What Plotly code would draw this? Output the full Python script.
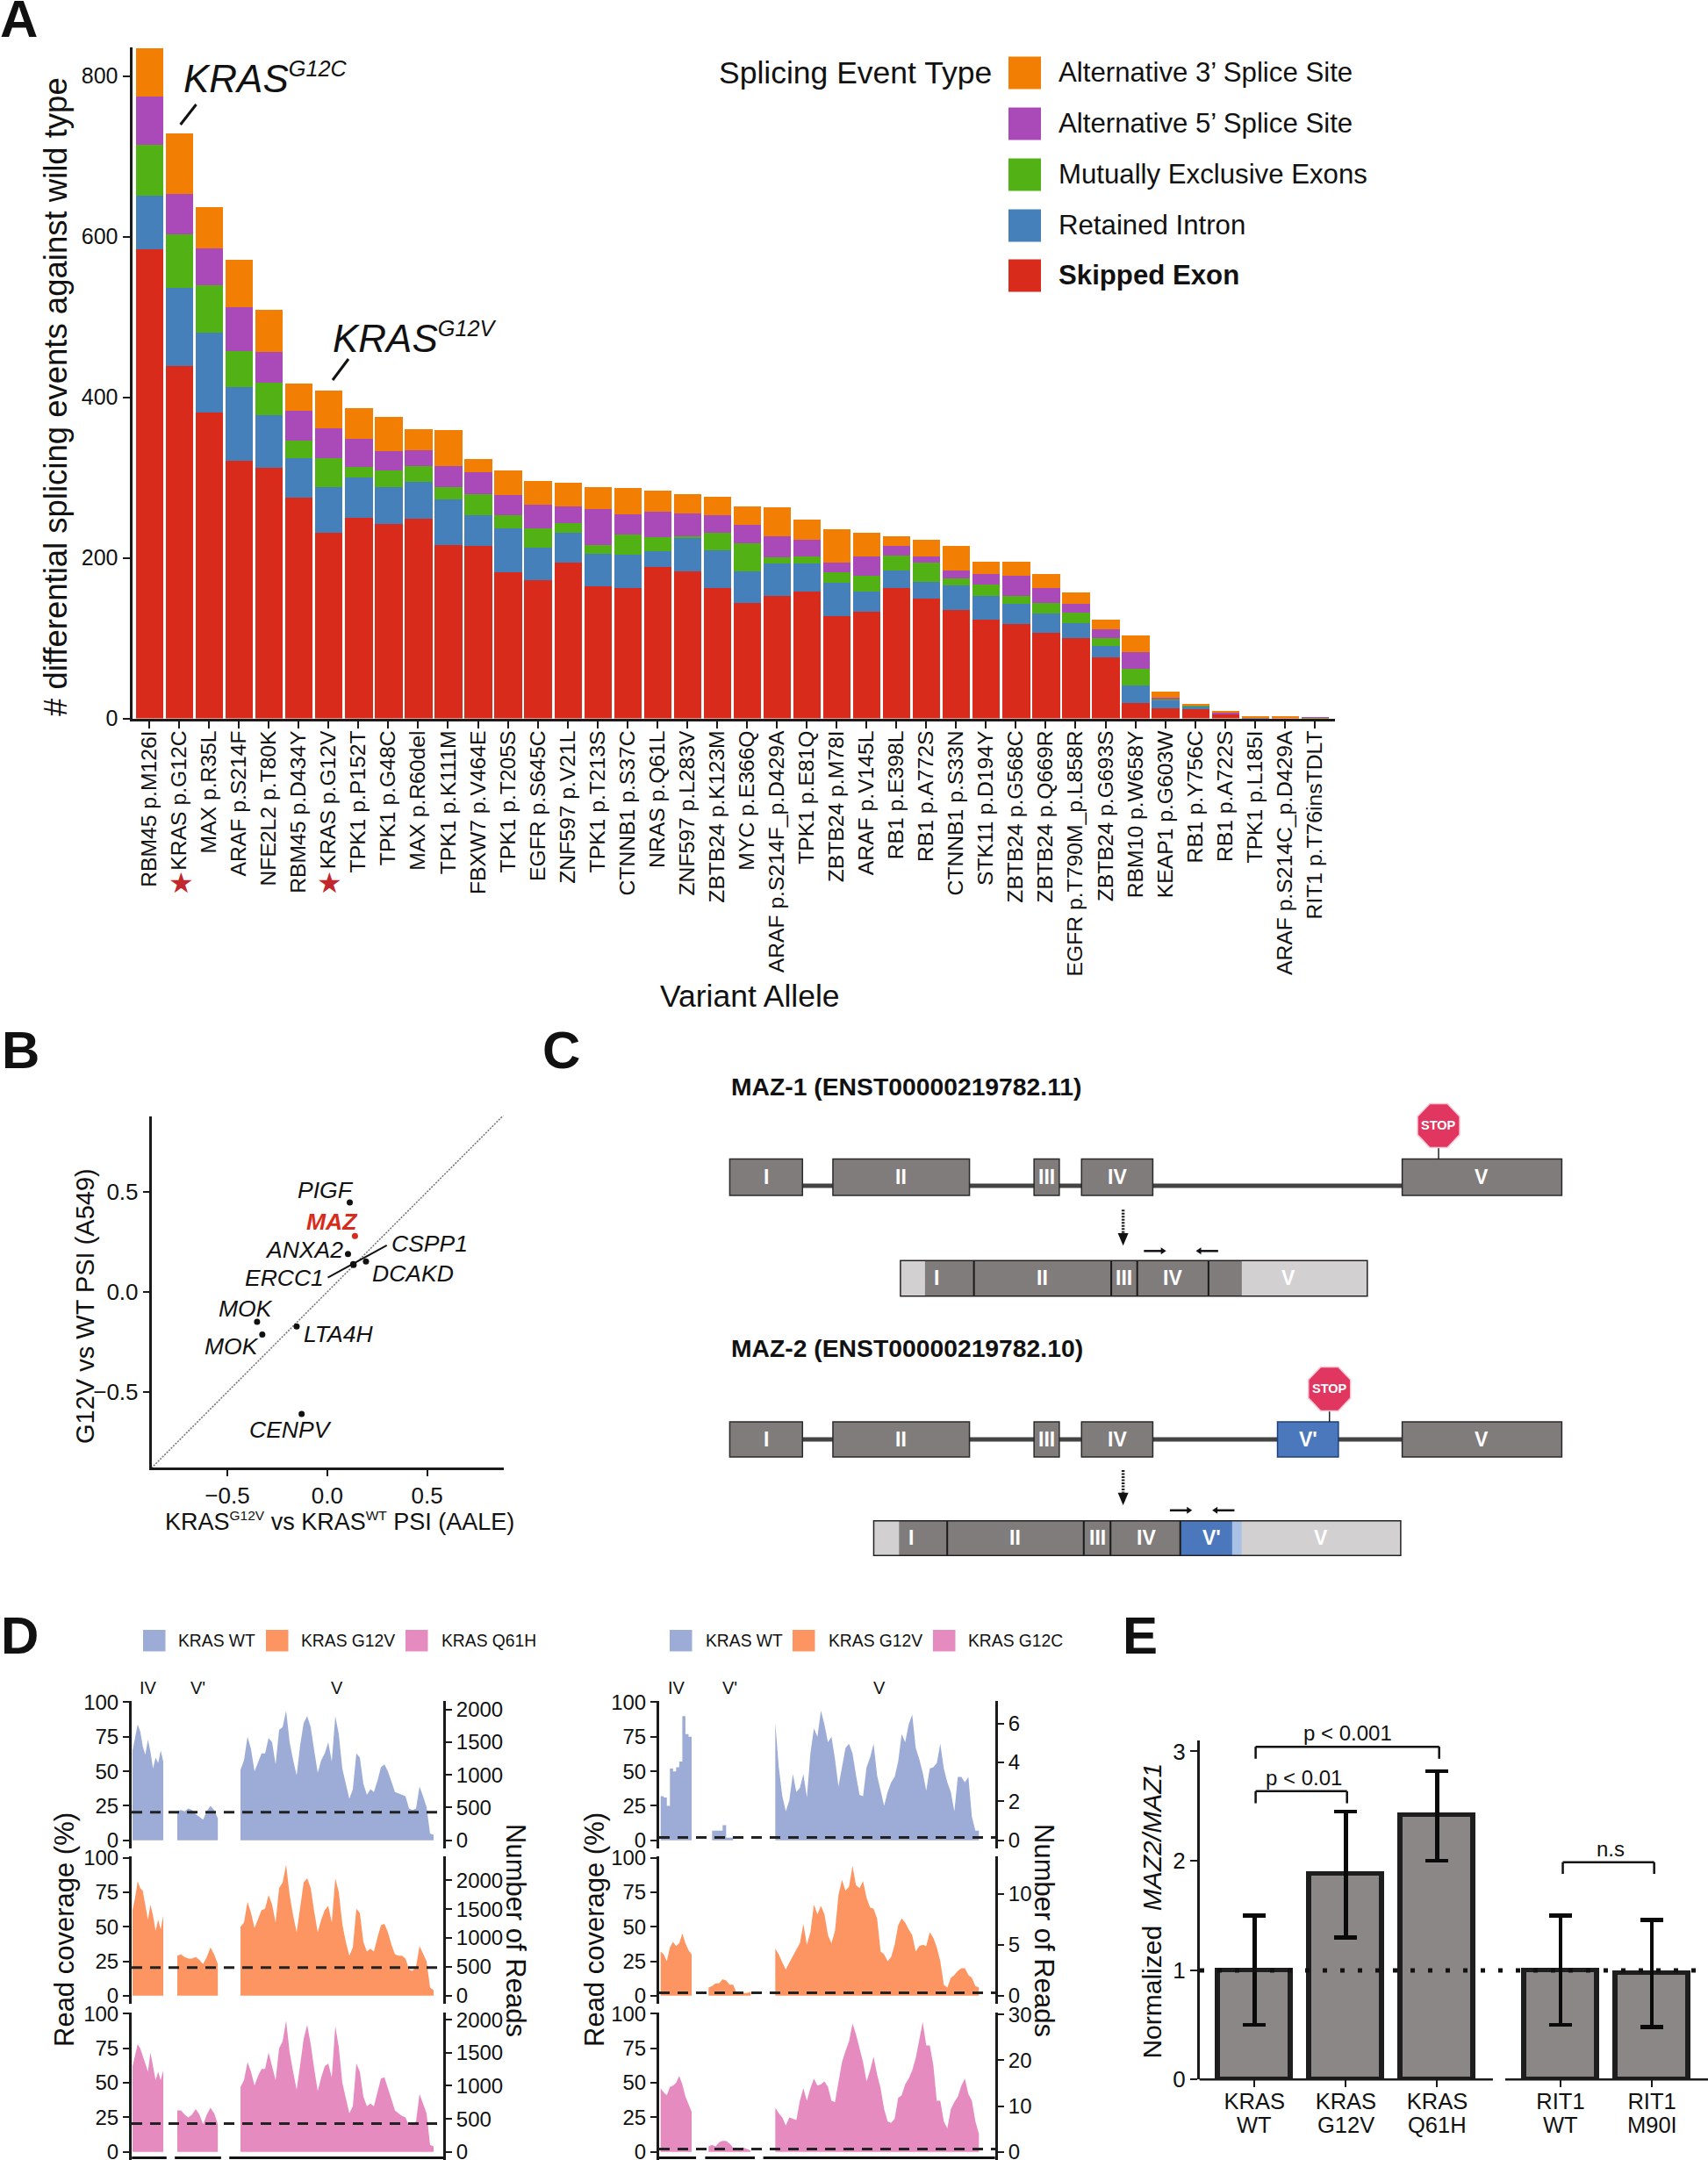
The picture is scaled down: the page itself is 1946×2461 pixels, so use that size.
import plotly.graph_objects as go

W, H = 1946, 2461
FONT = "Liberation Sans"
INK = "#111111"

# ---------- Panel A ----------
variants = ["RBM45 p.M126I","KRAS p.G12C","MAX p.R35L","ARAF p.S214F","NFE2L2 p.T80K","RBM45 p.D434Y","KRAS p.G12V",
 "TPK1 p.P152T","TPK1 p.G48C","MAX p.R60del","TPK1 p.K111M","FBXW7 p.V464E","TPK1 p.T205S","EGFR p.S645C","ZNF597 p.V21L",
 "TPK1 p.T213S","CTNNB1 p.S37C","NRAS p.Q61L","ZNF597 p.L283V","ZBTB24 p.K123M","MYC p.E366Q","ARAF p.S214F_p.D429A",
 "TPK1 p.E81Q","ZBTB24 p.M78I","ARAF p.V145L","RB1 p.E398L","RB1 p.A772S","CTNNB1 p.S33N","STK11 p.D194Y","ZBTB24 p.G568C",
 "ZBTB24 p.Q669R","EGFR p.T790M_p.L858R","ZBTB24 p.G693S","RBM10 p.W658Y","KEAP1 p.G603W","RB1 p.Y756C","RB1 p.A722S",
 "TPK1 p.L185I","ARAF p.S214C_p.D429A","RIT1 p.T76insTDLT"]
skipped_exon = [585,439,381,321,313,275,232,250,243,249,216,215,183,173,195,165,163,189,184,163,144,153,159,128,133,163,150,135,124,118,107,100,76,20,13,12,6,1,2,0.5]
retained_intron = [66,98,100,92,65,50,57,50,46,46,57,38,54,40,37,41,41,20,42,47,40,40,34,41,25,22,21,31,29,25,24,19,15,21,10,4,0,0.5,0,0]
mutually_exclusive = [64,66,59,45,41,21,36,14,20,20,15,27,16,24,12,10,26,17,1,22,35,8,9,14,20,18,23,9,14,10,13,13,9,21,2,1,0,0,0,1]
alt_5prime = [60,50,46,55,38,38,37,35,24,19,27,27,26,30,21,45,25,32,29,21,22,26,21,12,24,12,8,10,13,25,19,11,12,21,1,0,2,0.5,0,0.5]
alt_3prime = [60,76,51,59,52,34,47,38,43,27,45,16,30,29,29,28,32,26,24,24,24,36,25,41,30,12,21,30,16,18,17,14,11,21,8,1,1,1,1,0]
event_names = ["Alternative 3\u2019 Splice Site","Alternative 5\u2019 Splice Site","Mutually Exclusive Exons","Retained Intron","Skipped Exon"]
event_colors = ["#f27e03","#a94ab8","#52b215","#4580ba","#d92b1b"]

# ---------- Panel B ----------
psi_genes = ["PIGF","MAZ","ANXA2","ERCC1","CSPP1","DCAKD","MOK","MOK","LTA4H","CENPV"]
psi_aale = [0.113,0.139,0.104,0.130,0.132,0.194,-0.351,-0.325,-0.153,-0.128]
psi_a549 = [0.447,0.279,0.190,0.139,0.135,0.152,-0.149,-0.213,-0.172,-0.610]

# ---------- Panel D (read coverage %, IV / V' / V exons) ----------
L_WT_IV = [65,74,84,79,68,62,73,64,52,60,56,65,57]
L_WT_Vp = [21,22,21,23,22,19,17,15,21,25,22,16]
L_WT_V = [51,58,75,66,50,57,63,63,74,71,55,80,82,94,71,58,47,69,85,90,82,65,49,58,63,71,57,90,77,52,40,30,37,63,60,41,33,37,35,43,53,55,50,42,35,34,33,32,23,22,23,39,32,24,5,4]
L_G12V_IV = [62,71,83,78,76,65,55,66,58,47,55,48,58]
L_G12V_Vp = [29,30,28,27,27,28,26,23,28,35,30,23]
L_G12V_V = [50,53,68,60,49,56,62,63,73,66,53,78,82,95,73,58,46,64,82,85,78,61,46,55,62,65,53,85,75,52,39,29,35,63,60,39,32,34,32,42,51,52,46,37,30,29,29,27,19,18,21,36,31,25,6,4]
L_Q61H_IV = [62,70,78,75,70,64,58,72,62,52,58,52,59]
L_Q61H_Vp = [30,30,27,25,27,31,27,20,27,32,28,20]
L_Q61H_V = [47,52,65,58,48,55,60,60,72,62,52,75,80,95,72,58,45,63,82,92,78,60,44,54,62,64,54,91,76,50,38,28,33,64,58,40,33,35,33,43,53,54,46,38,30,28,26,25,19,20,22,42,35,28,5,4]
R_WT_IV = [32,31,25,52,50,53,57,90,77,75,74]
R_WT_Vp = [0,7,7,7,11,2,2,0,0,0,0,0,0]
R_WT_V = [85,53,32,21,29,48,35,38,48,31,63,81,75,94,84,71,75,59,39,53,67,70,63,47,33,32,53,60,70,47,35,25,35,42,46,57,77,71,84,91,67,59,49,36,52,53,56,70,52,42,35,21,46,46,42,46,17,7,7]
R_G12V_IV = [32,30,25,35,39,36,38,45,38,33,30]
R_G12V_Vp = [6,7,9,9,12,11,8,8,2,1,2,2,3]
R_G12V_V = [34,30,24,19,24,29,34,38,52,37,46,66,59,65,59,44,38,47,73,84,76,79,94,80,78,83,71,64,63,56,32,30,25,28,37,51,56,53,48,44,32,36,37,36,46,42,35,25,8,6,13,15,18,20,20,15,13,7,6]
R_G12C_IV = [46,43,41,47,48,50,55,49,40,34,29]
R_G12C_Vp = [4,5,4,7,8,8,6,3,1,2,3,2,1]
R_G12C_V = [32,28,25,19,25,24,23,37,46,37,46,53,48,49,51,47,37,36,51,65,73,80,93,85,75,65,51,59,69,56,46,31,22,21,24,39,41,49,53,59,68,80,94,77,77,63,37,37,22,17,31,36,40,48,53,42,37,22,13]
left_ticks_pct = [0,25,50,75,100]
reads_ticks = [[0,500,1000,1500,2000],[0,500,1000,1500,2000],[0,500,1000,1500,2000],[0,2,4,6],[0,5,10],[0,10,20,30]]
thresholds_reads = [431,489,428,0.145,0.28,0.62]
cov_colors = ["#9dacd6","#fc9561","#e68bc0"]

# ---------- Panel E ----------
e_line1 = ["KRAS","KRAS","KRAS","RIT1","RIT1"]
e_line2 = ["WT","G12V","Q61H","WT","M90I"]
e_pos = [0,1,2,3.35,4.35]
e_vals = [1.0,1.88,2.42,1.0,0.97]
e_hi = [1.5,2.45,2.82,1.5,1.46]
e_lo = [0.5,1.3,2.0,0.5,0.48]

# ---------- helpers ----------
fx = lambda x: x / W
fy = lambda y: 1 - y / H
shapes, annots = [], []

def txt(x, y, s, size, color=INK, anchor="center", angle=0, family=FONT):
    annots.append(dict(x=fx(x), y=fy(y), xref="paper", yref="paper", text=s, showarrow=False,
                       font=dict(size=size, color=color, family=family), xanchor=anchor, yanchor="middle",
                       textangle=angle, align="center"))

def rect(x0, y0, x1, y1, fill, line=None, lw=0):
    shapes.append(dict(type="rect", xref="paper", yref="paper", x0=fx(x0), x1=fx(x1), y0=fy(y0), y1=fy(y1),
                       fillcolor=fill, line=dict(color=line or fill, width=lw)))

def seg(x0, y0, x1, y1, color=INK, lw=2, dash="solid"):
    shapes.append(dict(type="line", xref="paper", yref="paper", x0=fx(x0), x1=fx(x1), y0=fy(y0), y1=fy(y1),
                       line=dict(color=color, width=lw, dash=dash)))

def poly(pts, fill, line=None, lw=0):
    p = "M " + " L ".join(f"{fx(a):.6f},{fy(b):.6f}" for a, b in pts) + " Z"
    shapes.append(dict(type="path", xref="paper", yref="paper", path=p, fillcolor=fill, line=dict(color=line or fill, width=lw)))

SMALLSUP = lambda s: f"<sup><span style='font-size:82%'>{s}</span></sup>"

fig = go.Figure()
layout = {}
AX = dict(showgrid=False, zeroline=False, showline=True, linecolor="#1a1a1a", ticks="outside", tickcolor="#1a1a1a",
          automargin=False, ticklabeloverflow="allow")

# ---------- A ----------
series = [skipped_exon, retained_intron, mutually_exclusive, alt_5prime, alt_3prime]
for vals, name, col in zip(series, event_names[::-1], event_colors[::-1]):
    fig.add_trace(go.Bar(x=variants, y=vals, name=name, marker=dict(color=col, line=dict(width=0)),
                         width=0.92, xaxis="x", yaxis="y", showlegend=False))
layout["xaxis"] = dict(AX, domain=[fx(150.5), fx(1521)], range=[-0.573, 39.68], type="category", linewidth=3, ticklen=8, tickwidth=2,
                       tickangle=-90, tickfont=dict(size=24.7, family=FONT, color=INK), anchor="y", tickmode="array",
                       tickvals=variants, ticktext=variants, ticklabelstandoff=-7)
layout["yaxis"] = dict(AX, domain=[fy(818.6), fy(53.6)], range=[0, 836], linewidth=3, ticklen=8, tickwidth=2, tickvals=[0,200,400,600,800],
                       tickfont=dict(size=25, family=FONT, color=INK), anchor="x")
layout["barmode"] = "stack"
txt(64, 452, "# differential splicing events against wild type", 36.5, angle=-90)
txt(854, 1135, "Variant Allele", 35.5)
txt(975, 83, "Splicing Event Type", 35.5)
for name, col, yc in zip(event_names, event_colors, [83, 141, 199, 257, 314]):
    rect(1149, yc - 18.5, 1186, yc + 18.5, col)
    txt(1204, yc, f"<b>{name}</b>" if name == "Skipped Exon" else name, 31.2, anchor="left")
txt(207, 89, "<i>KRAS" + SMALLSUP("G12C") + "</i>", 44, anchor="left")
txt(377, 385, "<i>KRAS" + SMALLSUP("G12V") + "</i>", 44, anchor="left")
seg(223.5, 119, 205.6, 142, lw=3)
seg(397, 409, 379, 433, lw=3)
for xs in (206, 375):
    txt(xs, 1006, "\u2605", 32, color="#c1272d", family="DejaVu Sans")
txt(21, 21, "<b>A</b>", 60)
txt(23, 1197, "<b>B</b>", 60)
txt(639, 1197, "<b>C</b>", 60)
txt(22, 1863, "<b>D</b>", 60)
txt(1299, 1863, "<b>E</b>", 60)

# ---------- B ----------
fig.add_trace(go.Scatter(x=[-0.88, 0.884], y=[-0.88, 0.884], mode="lines", line=dict(color="#777777", width=1.6, dash="2px,1.5px"),
                         xaxis="x2", yaxis="y2", showlegend=False))
fig.add_trace(go.Scatter(x=psi_aale, y=psi_a549, mode="markers", text=psi_genes,
                         marker=dict(size=7, color=["#d92b1b" if g == "MAZ" else "#111111" for g in psi_genes]),
                         xaxis="x2", yaxis="y2", showlegend=False))
layout["xaxis2"] = dict(AX, domain=[fx(172.5), fx(574)], range=[-0.88, 0.884], linewidth=2.5, ticklen=7, tickwidth=2, tickvals=[-0.5,0,0.5],
                        tickformat=".1f", tickfont=dict(size=26, family=FONT, color=INK), anchor="y2")
layout["yaxis2"] = dict(AX, domain=[fy(1672), fy(1271.5)], range=[-0.877, 0.879], linewidth=2.5, ticklen=7, tickwidth=2, tickvals=[-0.5,0,0.5],
                        tickformat=".1f", tickfont=dict(size=26, family=FONT, color=INK), anchor="x2")
bx = lambda z: z / 2.53
by = lambda z: 1160 + z / 2.53
for s, zx, zy in [("PIGF",938,495),("ANXA2",876,668),("ERCC1",820,748),("CSPP1",1238,650),("DCAKD",1190,735),
                  ("MOK",708,838),("MOK",668,947),("LTA4H",975,912),("CENPV",838,1187)]:
    txt(bx(zx), by(zy), f"<i>{s}</i>", 26.5)
txt(bx(957), by(587), "<b><i>MAZ</i></b>", 26.5, color="#d92b1b")
seg(bx(945), by(748), bx(1115), by(655), lw=2)
txt(97, 1488, "G12V vs WT PSI (A549)", 29, angle=-90)
txt(387, 1733, "KRAS" + SMALLSUP("G12V") + " vs KRAS" + SMALLSUP("WT") + " PSI (AALE)", 27)

# ---------- C ----------
cx = lambda z: 620 + z / 1.1825
cy = lambda z: 1160 + z / 2.45
GREY, LIGHT, BLUE = "#7f7c7b", "#d2d0d1", "#4b78bd"
def c_label(zx, zy, s):
    txt(cx(zx), cy(zy), f"<b>{s}</b>", 23, color="white")
def stop(zx, zy, foot):
    X, Y = cx(zx), cy(zy)
    seg(X, Y, X, cy(foot), color="#222222", lw=1.5)
    r, k = 25, 10.4
    rx, kx = 24, 10
    poly([(X-kx,Y-r),(X+kx,Y-r),(X+rx,Y-k),(X+rx,Y+k),(X+kx,Y+r),(X-kx,Y+r),(X-rx,Y+k),(X-rx,Y-k)], "#e0365f", "#f7c6d3", 1.5)
    txt(X, Y, "<b>STOP</b>", 14.5, color="white")
def down_arrow(zx, z0, z1, z2):
    X = cx(zx)
    seg(X, cy(z0), X, cy(z1), color="#222222", lw=3.5, dash="2px,1.5px")
    poly([(X-6, cy(z1)), (X+6, cy(z1)), (X, cy(z2))], "#111111")
def primer(z0, z1, zy, right=True):
    y = cy(zy)
    a, b = cx(z0), cx(z1)
    if right:
        seg(a, y, b-4, y, lw=2.5); poly([(b-6,y-4),(b-6,y+4),(b,y)], "#111111")
    else:
        seg(a+4, y, b, y, lw=2.5); poly([(a+6,y-4),(a+6,y+4),(a,y)], "#111111")
txt(cx(250), cy(190), "<b>MAZ-1 (ENST00000219782.11)</b>", 28.3, anchor="left")
txt(cx(250), cy(922), "<b>MAZ-2 (ENST00000219782.10)</b>", 28.3, anchor="left")
exons = [("I",250,348),("II",389,573),("III",660,694),("IV",724,820)]
for top, bot, intron in [(393,495,468),(1127,1225,1176)]:
    rect(cx(348), cy(intron)-2.5, cx(1156), cy(intron)+2.5, "#444444")
    for s, a, b in exons + [("V",1156,1371)]:
        rect(cx(a), cy(top), cx(b), cy(bot), GREY, "#2a2a2a", 1.5)
        c_label((a+b)/2, (top+bot)/2, s)
rect(cx(988), cy(1127), cx(1070), cy(1225), BLUE, "#1d3f7a", 1.5)
c_label(1029, 1176, "V'")
stop(1205, 300, 393)
stop(1058, 1035, 1127)
down_arrow(780, 535, 600, 635)
down_arrow(780, 1262, 1325, 1360)
primer(808, 838, 650, True); primer(878, 908, 650, False)
primer(843, 873, 1374, True); primer(900, 930, 1374, False)
# transcript MAZ-1
rect(cx(480), cy(677), cx(513), cy(776), LIGHT)
rect(cx(513), cy(677), cx(940), cy(776), GREY)
rect(cx(940), cy(677), cx(1109), cy(776), LIGHT)
for z in (579, 764, 799, 895):
    seg(cx(z), cy(677), cx(z), cy(776), color="#1a1a1a", lw=2)
rect(cx(480), cy(677), cx(1109), cy(776), "rgba(0,0,0,0)", "#222222", 1.5)
for s, z in [("I",529),("II",671),("III",781),("IV",847),("V",1003)]:
    c_label(z, 725, s)
# transcript MAZ-2
rect(cx(444), cy(1403), cx(478), cy(1500), LIGHT)
rect(cx(478), cy(1403), cx(857), cy(1500), GREY)
rect(cx(857), cy(1403), cx(927), cy(1500), BLUE)
rect(cx(927), cy(1403), cx(940), cy(1500), "#a9c1e4")
rect(cx(940), cy(1403), cx(1154), cy(1500), LIGHT)
for z in (543, 727, 763, 857):
    seg(cx(z), cy(1403), cx(z), cy(1500), color="#1a1a1a", lw=2)
rect(cx(444), cy(1403), cx(1154), cy(1500), "rgba(0,0,0,0)", "#222222", 1.5)
for s, z in [("I",494),("II",635),("III",746),("IV",811),("V'",899),("V",1047)]:
    c_label(z, 1451, s)

# ---------- D ----------
dy = lambda z: 1830 + z / 2.485
rows = [(268,663,685),(708,1103,1125),(1150,1545,1567)]
k_reads = [0.1855,0.1635,0.187,55.2,28.8,12.97]
columns = [
    dict(dom=(150,505), span=88.75, iv=(0.25,0.73), vp=(13.0,1.05), v=(31.0,1.0),
         data=[(L_WT_IV,L_WT_Vp,L_WT_V),(L_G12V_IV,L_G12V_Vp,L_G12V_V),(L_Q61H_IV,L_Q61H_Vp,L_Q61H_V)]),
    dict(dom=(751,1134), span=95.75, iv=(0.42,0.883), vp=(14.08,1.0), v=(33.08,1.0),
         data=[(R_WT_IV,R_WT_Vp,R_WT_V),(R_G12V_IV,R_G12V_Vp,R_G12V_V),(R_G12C_IV,R_G12C_Vp,R_G12C_V)]),
]
axn = 3
panel = 0
TF = dict(size=24, family=FONT, color=INK)
for ci, col in enumerate(columns):
    for ri, (top, zero, bot) in enumerate(rows):
        xn, yn, yr = f"x{axn}", f"y{axn}", f"y{axn+10}"
        for ei, (vals, (st, step)) in enumerate(zip(col["data"][ri], (col["iv"], col["vp"], col["v"]))):
            xs = [st + step * i for i in range(len(vals))]
            stepped = panel == 3 and ei < 2
            fig.add_trace(go.Scatter(x=xs, y=vals, mode="lines", fill="tozeroy", fillcolor=cov_colors[ri],
                                     line=dict(width=0, shape="hv" if stepped else "linear"), xaxis=xn, yaxis=yn, showlegend=False))
        fig.add_trace(go.Scatter(x=[0, col["span"]], y=[thresholds_reads[panel]]*2, mode="lines",
                                 line=dict(color="#222222", width=3, dash="12px,9px"), xaxis=xn, yaxis=yr, showlegend=False))
        layout[f"xaxis{axn}"] = dict(domain=[fx(col["dom"][0]), fx(col["dom"][1])], range=[0, col["span"]], visible=False, anchor=yn, automargin=False)
        dom = [fy(dy(bot)), fy(dy(top))]
        layout[f"yaxis{axn}"] = dict(AX, domain=dom, range=[-(bot-zero)/3.91, (zero-top)/3.91], linewidth=3, ticklen=7, tickwidth=2,
                                     tickvals=left_ticks_pct, tickfont=TF, anchor=xn)
        k = k_reads[panel]
        layout[f"yaxis{axn+10}"] = dict(AX, domain=dom, range=[-(bot-zero)/k, (zero-top)/k], linewidth=3, ticklen=7, tickwidth=2,
                                        tickvals=reads_ticks[panel], tickfont=TF, anchor=xn, side="right", overlaying=yn)
        axn += 1
        panel += 1
for s, a, b in [("IV",169,771),("V'",225,831),("V",384,1002)]:
    txt(a, 1923, s, 20); txt(b, 1923, s, 20)
for a, b in [(368,465),(488,617),(640,1238)]:
    seg(a/2.45, 2458.6, b/2.45, 2458.6, lw=3)
for a, b in [(290,400),(427,575),(600,1290)]:
    seg(640+a/2.613, 2458.6, 640+b/2.613, 2458.6, lw=3)
txt(73, 2199, "Read coverage (%)", 31, angle=-90)
txt(588, 2199, "Number of Reads", 31, angle=90)
txt(677, 2199, "Read coverage (%)", 31, angle=-90)
txt(1190, 2199, "Number of Reads", 31, angle=90)
for swatches in ([(163,201,"KRAS WT"),(303,341,"KRAS G12V"),(462,501,"KRAS Q61H")],
                 [(763,802,"KRAS WT"),(903,942,"KRAS G12V"),(1063,1101,"KRAS G12C")]):
    for c, (sx, tx, s) in zip(cov_colors, swatches):
        rect(sx, 1857, sx+25.5, 1881.5, c)
        txt(tx, 1869, s, 19.3, anchor="left")

# ---------- E ----------
ex = lambda z: 1260 + z / 2.286
ey = lambda z: 1830 + z / 2.485
fig.add_trace(go.Bar(x=e_pos, y=e_vals, width=0.8, marker=dict(color="#8a8786", line=dict(color="#1e1e1e", width=5.5)),
                     error_y=dict(type="data", symmetric=False, array=[h-v for h, v in zip(e_hi, e_vals)],
                                  arrayminus=[v-l for v, l in zip(e_vals, e_lo)], color="#0a0a0a", thickness=4.5, width=13),
                     cliponaxis=False, xaxis="x20", yaxis="y20", showlegend=False))
layout["xaxis20"] = dict(domain=[fx(1366.7), fx(1946)], range=[-0.601, 4.964], showgrid=False, zeroline=False, showline=False, automargin=False,
                         ticks="outside", ticklen=8, tickwidth=2, tickcolor="#1a1a1a", tickmode="array", tickvals=e_pos, ticktext=e_line1,
                         tickfont=dict(size=25.5, family=FONT, color=INK), anchor="y20", ticklabelstandoff=-6)
layout["yaxis20"] = dict(AX, domain=[fy(2369.2), fy(1983)], range=[0, 3.10], linewidth=2.5, ticklen=8, tickwidth=2, tickvals=[0,1,2,3],
                         tickfont=dict(size=26, family=FONT, color=INK), anchor="x20")
for p, s in zip(e_pos, e_line2):
    txt(1429.3 + 104.1 * p, 2421, s, 25.5)
seg(1366.7, 2369.2, ex(1008), 2369.2, color="#1a1a1a", lw=2.5)
seg(ex(1040), 2369.2, 1946, 2369.2, color="#1a1a1a", lw=2.5)
seg(1367, 2244.9, 1946, 2244.9, color="#111111", lw=5, dash="5px,15px")
for a, b, top, leg in [(390,868,398,432),(390,628,524,558),(1190,1428,725,758)]:
    for xz in (a, b):
        seg(ex(xz), ey(top), ex(xz), ey(leg), lw=2.5)
    seg(ex(a), ey(top), ex(b), ey(top), lw=2.5)
txt(ex(630), ey(358), "p &lt; 0.001", 24)
txt(ex(515), ey(485), "p &lt; 0.01", 24)
txt(ex(1315), ey(688), "n.s", 24)
txt(1311.6, 2177, "Normalized  <i>MAZ2/MAZ1</i>", 30, angle=-90)

fig.update_layout(template="none", width=W, height=H, margin=dict(l=0, r=0, t=0, b=0, pad=0), paper_bgcolor="white", plot_bgcolor="rgba(0,0,0,0)",
                  showlegend=False, font=dict(family=FONT, color=INK), shapes=shapes, annotations=annots, bargap=0, **layout)
fig.write_html("out.html", config=dict(displayModeBar=False), post_script="document.body.style.margin='0';")
